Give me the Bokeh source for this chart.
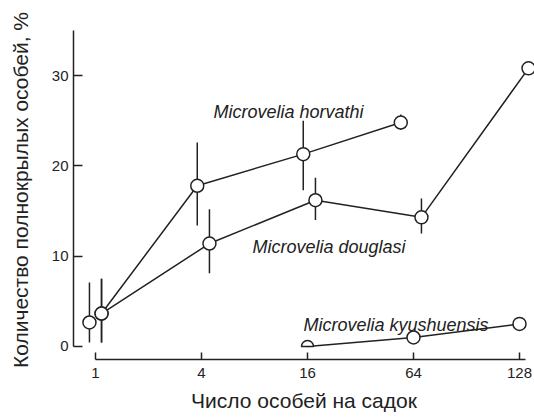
from bokeh.plotting import figure
from bokeh.models import FixedTicker, Range1d
from bokeh.core.properties import value
from bokeh.embed import file_html
from bokeh.resources import INLINE
import math

# ---- data ----
densities = [1, 4, 16, 64, 128]
tick_labels = ["1", "4", "16", "64", "128"]

horv_n = [1, 4, 16, 64]
horv_y = [3.65, 17.8, 21.3, 24.8]
horv_lo = [0.45, 13.4, 17.3, 24.0]
horv_hi = [7.5, 22.6, 25.0, 25.7]
horv_dx = [0.057, -0.04, -0.04, -0.12]

doug_n = [1, 4, 16, 64, 128]
doug_y = [3.65, 11.4, 16.2, 14.3, 30.8]
doug_lo = [0.45, 8.1, 14.0, 12.5, None]
doug_hi = [7.5, 15.2, 18.7, 16.4, None]
doug_dx = [0.057, 0.075, 0.075, 0.075, 0.085]

kyu_n = [16, 64, 128]
kyu_y = [0.0, 1.0, 2.5]
kyu_dx = [0.0, 0.0, 0.0]

single_n = [1]
single_y = [2.66]
single_lo = [0.45]
single_hi = [7.1]
single_dx = [-0.057]

labels = ["Microvelia horvathi", "Microvelia douglasi", "Microvelia kyushuensis"]
label_n = [4, 4, 16]
label_dx = [0.113, 0.481, -0.038]
label_y = [26.0, 11.0, 2.35]

pos = {d: i for i, d in enumerate(densities)}

def xs(ns, dxs):
    return [pos[n] + d for n, d in zip(ns, dxs)]

INK = "#222222"
FONT = "Liberation Sans"

p = figure(width=534, height=419, output_backend="svg", toolbar_location=None,
           x_range=Range1d(-0.2075, 4.1415), y_range=Range1d(-1.44, 36.1),
           min_border_left=73, min_border_right=0, min_border_top=20, min_border_bottom=60)
p.outline_line_color = None
p.xgrid.visible = False
p.ygrid.visible = False
p.background_fill_color = "white"
p.border_fill_color = "white"

# axes
p.xaxis.ticker = FixedTicker(ticks=list(range(len(densities))))
p.xaxis.major_label_overrides = {i: t for i, t in enumerate(tick_labels)}
p.xaxis.bounds = (0, 4.06)
p.yaxis.ticker = FixedTicker(ticks=[0, 10, 20, 30])
p.yaxis.bounds = (0, 35)
for ax in (p.xaxis, p.yaxis):
    ax.minor_tick_line_color = None
    ax.major_tick_out = 0
    ax.axis_line_color = INK
    ax.axis_line_width = 1.5
    ax.major_tick_line_color = INK
    ax.major_tick_line_width = 1.5
    ax.major_label_text_font = FONT
    ax.major_label_text_font_size = "15px"
    ax.major_label_text_color = INK
    ax.axis_label_text_font = FONT
    ax.axis_label_text_font_size = "21px"
    ax.axis_label_text_font_style = "normal"
    ax.axis_label_text_color = INK
p.yaxis.major_tick_in = 9
p.xaxis.major_tick_in = 7
p.yaxis.major_label_standoff = 5
p.xaxis.major_label_standoff = 8
p.xaxis.axis_label = "Число особей на садок"
p.yaxis.axis_label = "Количество полнокрылых особей, %"
p.xaxis.axis_label_standoff = 8
p.yaxis.axis_label_standoff = 17

# error bars
def errbars(ns, dxs, lo, hi):
    x0, y0, y1 = [], [], []
    for x, l, h in zip(xs(ns, dxs), lo, hi):
        if l is None:
            continue
        x0.append(x); y0.append(l); y1.append(h)
    p.segment(x0=x0, y0=y0, x1=x0, y1=y1, line_color=INK, line_width=1.5)

errbars(horv_n, horv_dx, horv_lo, horv_hi)
errbars(doug_n, doug_dx, doug_lo, doug_hi)
errbars(single_n, single_dx, single_lo, single_hi)

# lines
p.line(xs(horv_n, horv_dx), horv_y, line_color=INK, line_width=1.5)
p.line(xs(doug_n, doug_dx), doug_y, line_color=INK, line_width=1.5)
p.line(xs(kyu_n, kyu_dx), kyu_y, line_color=INK, line_width=1.5)

# markers
mk = dict(size=13, fill_color="white", line_color=INK, line_width=1.5)
p.scatter(xs(horv_n, horv_dx), horv_y, **mk)
p.scatter(xs(doug_n, doug_dx), doug_y, **mk)
p.scatter(xs(single_n, single_dx), single_y, **mk)
# kyushuensis: first point sits on zero line (half marker)
kx = xs(kyu_n, kyu_dx)
p.wedge(x=[kx[0]], y=[kyu_y[0]], radius=6, radius_units="screen",
        start_angle=0, end_angle=math.pi, fill_color="white", line_color=INK, line_width=1.5)
p.scatter(kx[1:], kyu_y[1:], **mk)

# species labels
p.text(x=[pos[n] + d for n, d in zip(label_n, label_dx)], y=label_y, text=labels,
       text_font=value(FONT), text_font_style="italic", text_font_size="18px",
       text_color=INK, text_baseline="alphabetic", text_align="left")

open("out.html", "w").write(file_html(p, INLINE))
